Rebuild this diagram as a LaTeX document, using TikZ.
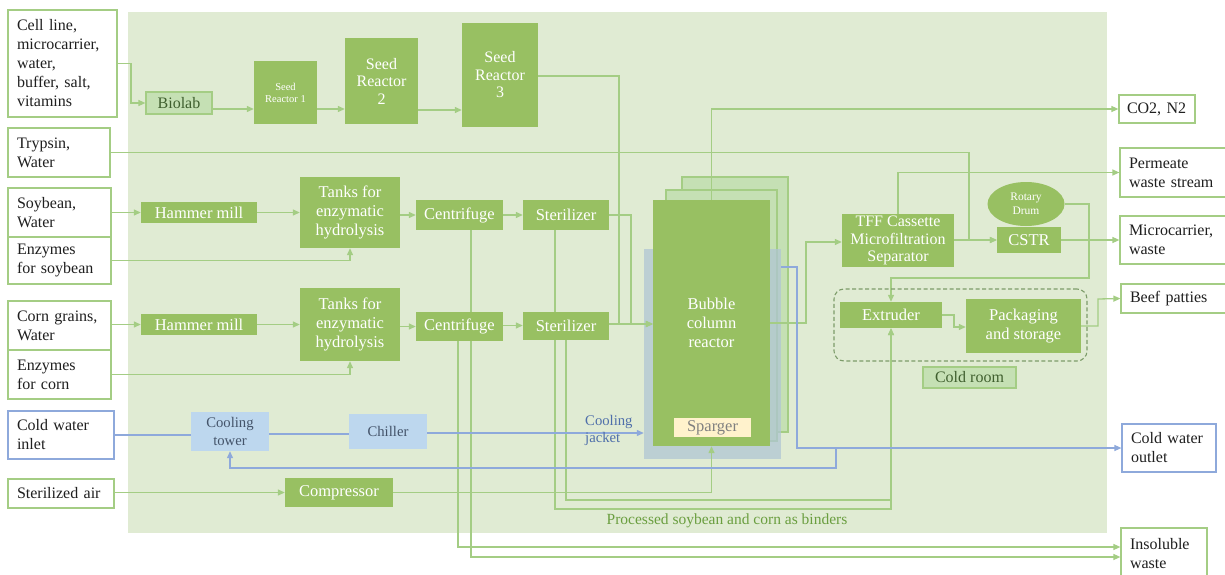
\documentclass[tikz,border=0pt]{standalone}
\usepackage{fontspec}
\setmainfont{Liberation Serif}
\usetikzlibrary{arrows.meta,shapes.geometric,calc}

\definecolor{panel}{HTML}{E0EBD3}
\definecolor{procfill}{HTML}{98C062}
\definecolor{lightfill}{HTML}{C5E0B4}
\definecolor{gline}{HTML}{A4CD84}
\definecolor{bline}{HTML}{8EA9DB}
\definecolor{bfill}{HTML}{BDD7EE}
\definecolor{btext}{HTML}{44546A}
\definecolor{jacketfill}{HTML}{B0C6D3}
\definecolor{spargfill}{HTML}{FFF2CC}
\definecolor{darkgreen}{HTML}{3F5F2E}
\definecolor{captiongreen}{HTML}{6A9E3F}
\definecolor{jackettext}{HTML}{4F6FAA}
\definecolor{dashgreen}{HTML}{7D9C6A}

\newcommand{\fsIn}{\fontsize{16}{19}\selectfont}
\newcommand{\fsProc}{\fontsize{16.5}{19}\selectfont}
\newcommand{\fsMid}{\fontsize{16}{17.5}\selectfont}
\newcommand{\fsSmall}{\fontsize{10.5}{12}\selectfont}
\newcommand{\fsDrum}{\fontsize{11.5}{14}\selectfont}
\newcommand{\fsCool}{\fontsize{14.7}{17.3}\selectfont}
\newcommand{\fsCaption}{\fontsize{15.5}{18}\selectfont}

\pgfdeclarelayer{bg}
\pgfdeclarelayer{wires}
\pgfsetlayers{bg,wires,main}

\tikzset{
  inbox/.style={draw=gline, line width=1.2pt, fill=white, inner xsep=9pt, inner ysep=0pt,
    align=left, font=\fsIn, text=black!88},
  bluebox/.style={inbox, draw=bline},
  proc/.style={fill=procfill, text=white, inner sep=0pt, align=center, font=\fsProc},
  lightbox/.style={fill=lightfill, draw=gline, line width=1.2pt, text=darkgreen,
    inner sep=0pt, align=center, font=\fsIn},
  cool/.style={fill=bfill, text=btext, inner sep=0pt, align=center, font=\fsCool},
  wire/.style={draw=gline, line width=1.3pt, -{Triangle[length=7pt,width=6pt]}},
  plainwire/.style={draw=gline, line width=1.3pt},
  bwire/.style={draw=bline, line width=1.2pt, -{Triangle[length=7pt,width=6pt]}},
  bplain/.style={draw=bline, line width=1.2pt},
  layerbox/.style={fill=lightfill, draw=gline, line width=1.2pt}
}

\begin{document}
\begin{tikzpicture}[x=1pt,y=-1pt]
\useasboundingbox (0,0) rectangle (1225,575);

% ---------- plant area, stacked reactors and cooling jacket ----------
\begin{pgfonlayer}{bg}
  \fill[panel] (128,12) rectangle (1107,533);
  \node[layerbox, minimum width=106pt, minimum height=255pt] (layerC) at (735,304.5) {};
  \node[layerbox, minimum width=111pt, minimum height=251pt] (layerB) at (721.5,315.5) {};
  \node[fill=jacketfill, fill opacity=0.75, minimum width=137pt, minimum height=210pt,
    inner sep=0pt] (jacket) at (712.5,354) {};
\end{pgfonlayer}

% ---------- inputs ----------
\node[inbox, text width=91pt, minimum height=107pt] (cell) at (62.5,63.5)
  {Cell line,\\microcarrier,\\water,\\buffer, salt,\\vitamins};
\node[inbox, text width=84pt, minimum height=49pt] (trypsin) at (59,152.5) {Trypsin,\\Water};
\node[inbox, text width=85pt, minimum height=49pt] (soy) at (59.5,212.5) {Soybean,\\Water};
\node[inbox, text width=85pt, minimum height=47pt] (enzsoy) at (59.5,260.5) {Enzymes\\for soybean};
\node[inbox, text width=85pt, minimum height=49pt] (corn) at (59.5,325.5) {Corn grains,\\Water};
\node[inbox, text width=85pt, minimum height=49pt] (enzcorn) at (59.5,374.5) {Enzymes\\for corn};
\node[bluebox, text width=88pt, minimum height=48pt] (coldin) at (61,435) {Cold water\\inlet};
\node[inbox, text width=88pt, minimum height=29pt] (air) at (61,493.5) {Sterilized air};

% ---------- outputs ----------
\node[inbox, inner xsep=8pt, text width=60pt, minimum height=28pt] (co2) at (1157,109) {CO2, N2};
\node[inbox, text width=97pt, minimum height=49pt] (perm) at (1177.5,172.5) {Permeate\\waste stream};
\node[inbox, text width=97pt, minimum height=48pt] (microw) at (1177.5,240) {Microcarrier,\\waste};
\node[inbox, text width=97pt, minimum height=29pt] (beef) at (1178.5,298.5) {Beef patties};
\node[bluebox, text width=76pt, minimum height=48pt] (coldout) at (1169,448) {Cold water\\outlet};
\node[inbox, text width=68pt, minimum height=52pt] (insol) at (1164,554) {Insoluble\\waste};

% ---------- cell culture train ----------
\node[lightbox, minimum width=66pt, minimum height=22pt] (biolab) at (179,103) {Biolab};
\node[proc, font=\fsSmall, minimum width=63pt, minimum height=63pt] (sr1) at (285.5,92.5) {Seed\\Reactor 1};
\node[proc, font=\fsMid, minimum width=73pt, minimum height=86pt] (sr2) at (381.5,81) {Seed\\Reactor\\2};
\node[proc, font=\fsMid, minimum width=76pt, minimum height=104pt] (sr3) at (500,75) {Seed\\Reactor\\3};

% ---------- soybean and corn lines ----------
\node[proc, minimum width=116pt, minimum height=21pt] (hm1) at (199,212.5) {Hammer mill};
\node[proc, minimum width=100pt, minimum height=71pt] (tank1) at (350,212.5) {Tanks for\\enzymatic\\hydrolysis};
\node[proc, minimum width=87pt, minimum height=30pt] (cf1) at (459.5,215) {Centrifuge};
\node[proc, minimum width=86pt, minimum height=30pt] (st1) at (566,215) {Sterilizer};
\node[proc, minimum width=116pt, minimum height=21pt] (hm2) at (199,324.5) {Hammer mill};
\node[proc, minimum width=100pt, minimum height=73pt] (tank2) at (350,324.5) {Tanks for\\enzymatic\\hydrolysis};
\node[proc, minimum width=87pt, minimum height=29pt] (cf2) at (459.5,326.5) {Centrifuge};
\node[proc, minimum width=86pt, minimum height=28pt] (st2) at (566,325.5) {Sterilizer};

% ---------- bioreactor ----------
\node[proc, minimum width=117pt, minimum height=246pt] (bcr) at (711.5,323) {Bubble\\column\\reactor};
\node[fill=spargfill, text=black!50, inner sep=0pt, font=\fsProc, minimum width=77pt, minimum height=19pt]
  (sparger) at (712.5,427.5) {Sparger};
\node[text=jackettext, font=\fsCool, align=left, anchor=west, inner sep=0pt] (cjlabel) at (585,430.5) {Cooling\\jacket};

% ---------- downstream ----------
\node[proc, font=\fsMid, minimum width=112pt, minimum height=53pt] (tff) at (898,240.5)
  {TFF Cassette\\Microfiltration\\Separator};
\node[proc, ellipse, font=\fsDrum, minimum width=77pt, minimum height=44pt, inner sep=0pt] (drum) at (1026,204) {Rotary\\Drum};
\node[proc, minimum width=64pt, minimum height=26pt] (cstr) at (1029,240) {CSTR};
\node[draw=dashgreen, line width=1.1pt, dash pattern=on 4pt off 2.5pt, rounded corners=10pt,
  minimum width=253pt, minimum height=72pt, inner sep=0pt] (coldbox) at (960.5,325) {};
\node[proc, minimum width=102pt, minimum height=26pt] (extr) at (891,315) {Extruder};
\node[proc, minimum width=115pt, minimum height=54pt] (pack) at (1023.5,326) {Packaging\\and storage};
\node[lightbox, minimum width=93pt, minimum height=21pt] (crlabel) at (969.5,377.5) {Cold room};

% ---------- utilities ----------
\node[cool, minimum width=78pt, minimum height=39pt] (ctower) at (230,431.5) {Cooling\\tower};
\node[cool, minimum width=78pt, minimum height=35pt] (chiller) at (388,431.5) {Chiller};
\node[proc, minimum width=108pt, minimum height=29pt] (comp) at (339,492.5) {Compressor};

\node[text=captiongreen, font=\fsCaption, inner sep=0pt] (caption) at (727,521)
  {Processed soybean and corn as binders};

\coordinate (retjoin) at (836,448);

% ---------- connectors ----------
\begin{pgfonlayer}{wires}
  % cell culture
  \draw[wire] (cell.east) -| (131,103) -- (biolab.west);
  \draw[wire] (biolab.east |- 0,109) -- (sr1.west |- 0,109);
  \draw[wire] (sr1.east |- 0,109) -- (sr2.west |- 0,109);
  \draw[wire] (sr2.east |- 0,110) -- (sr3.west |- 0,110);
  \draw[wire] (sr3.east |- 0,76) -| (619,324) -- (bcr.west |- 0,324);
  \draw[wire] (trypsin.east) -| (969,240) -- (cstr.west);

  % soybean line
  \draw[wire] (soy.east |- hm1.west) -- (hm1.west);
  \draw[wire] (hm1.east) -- (tank1.west);
  \draw[wire] (tank1.east |- cf1.west) -- (cf1.west);
  \draw[wire] (cf1.east) -- (st1.west);
  \draw[wire] (enzsoy.east) -| (tank1.south);
  \draw[wire] (st1.east) -| (631,324) -- (bcr.west |- 0,324);

  % corn line
  \draw[wire] (corn.east |- hm2.west) -- (hm2.west);
  \draw[wire] (hm2.east) -- (tank2.west);
  \draw[wire] (tank2.east |- cf2.west) -- (cf2.west);
  \draw[wire] (cf2.east |- st2.west) -- (st2.west);
  \draw[wire] (enzcorn.east) -| (tank2.south);
  \draw[wire] (st2.east |- 0,324) -- (bcr.west |- 0,324);

  % insoluble solids and binders
  \draw[wire] ([xshift=11.5pt]cf1.south) |- (insol.west |- 0,557);
  \draw[wire] ([xshift=-1.5pt]cf2.south) |- (insol.west |- 0,547);
  \draw[wire] ([xshift=-11pt]st1.south) |- (extr.south |- 0,509) -- (extr.south);
  \draw[wire] (st2.south) |- (extr.south |- 0,500) -- (extr.south);

  % gases and air
  \draw[wire] (bcr.north) |- (co2.west);
  \draw[wire] (air.east |- comp.west) -- (comp.west);
  \draw[wire] (comp.east) -| (bcr.south);

  % downstream
  \draw[wire] (bcr.east) -| (806,242) -- (tff.west |- 0,242);
  \draw[wire] (tff.north) |- (perm.west);
  \draw[wire] (tff.east |- cstr.west) -- (cstr.west);
  \draw[wire] (cstr.east) -- (microw.west |- cstr.east);
  \draw[wire] (drum.east) -| (1089,278) -| (extr.north);
  \draw[wire] (extr.east) -| (954,327) -- (pack.west |- 0,327);
  \draw[wire] (pack.east |- 0,326) -| (1098,299) -- (beef.west);

  % cooling water
  \draw[bplain] (coldin.east |- 0,435) -- (ctower.west |- 0,435);
  \draw[bplain] (ctower.east |- 0,434) -- (chiller.west |- 0,434);
  \draw[bwire] (chiller.east |- 0,433) -- (jacket.west |- 0,433);
  \draw[bwire] (jacket.east |- 0,267) -| (797,448) -- (coldout.west);
  \draw[bwire] (retjoin) |- (ctower.south |- 0,468) -- (ctower.south);
\end{pgfonlayer}
\end{tikzpicture}
\end{document}
